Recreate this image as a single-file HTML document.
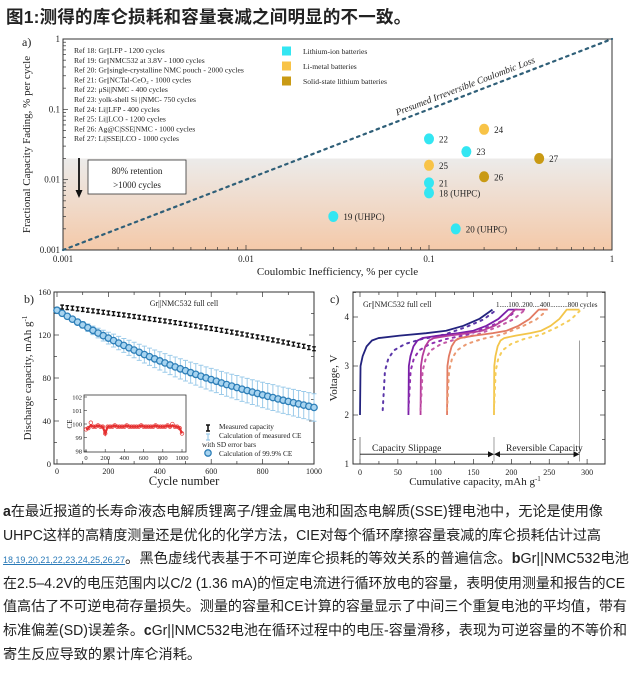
<!DOCTYPE html>
<html><head><meta charset="utf-8">
<style>
html,body{margin:0;padding:0;background:#fff;width:633px;height:684px;overflow:hidden;position:relative}
svg{position:absolute;left:0;top:0}
.t{font-family:"Liberation Serif","Noto Serif CJK SC",serif;fill:#222}
#title{position:absolute;left:6px;top:4px;font-family:"Liberation Sans","Noto Sans CJK SC",sans-serif;font-weight:bold;font-size:17.5px;color:#222;white-space:nowrap;letter-spacing:0.2px}
#para{position:absolute;left:3px;top:501px;font-family:"Liberation Sans","Noto Sans CJK SC",sans-serif;font-size:14.4px;line-height:23.6px;color:#222;white-space:nowrap}
#para div{transform-origin:0 50%;width:max-content}
#para b{font-weight:bold}
#para a{color:#2a7ab8;font-size:9px;text-decoration:underline}
</style></head><body>
<div id="title">图1:测得的库仑损耗和容量衰减之间明显的不一致。</div>
<svg id="fig" width="633" height="495" viewBox="0 0 633 495">
<defs>
<linearGradient id="shade" x1="0" y1="0" x2="0" y2="1">
<stop offset="0" stop-color="#ecebea"/><stop offset="1" stop-color="#f4c9a9"/>
</linearGradient>
</defs>
<g id="pa"></g>
<g id="pb"></g>
<g id="pc"></g>
</svg>
<div id="para">
<div data-w="600"><b>a</b>在最近报道的长寿命液态电解质锂离子/锂金属电池和固态电解质(SSE)锂电池中，无论是使用像</div>
<div data-w="598">UHPC这样的高精度测量还是优化的化学方法，CIE对每个循环摩擦容量衰减的库仑损耗估计过高</div>
<div data-w="626"><a>18,19,20,21,22,23,24,25,26,27</a>。黑色虚线代表基于不可逆库仑损耗的等效关系的普遍信念。<b>b</b>Gr||NMC532电池</div>
<div data-w="622">在2.5–4.2V的电压范围内以C/2 (1.36 mA)的恒定电流进行循环放电的容量，表明使用测量和报告的CE</div>
<div data-w="624">值高估了不可逆电荷存量损失。测量的容量和CE计算的容量显示了中间三个重复电池的平均值，带有</div>
<div data-w="624">标准偏差(SD)误差条。<b>c</b>Gr||NMC532电池在循环过程中的电压-容量滑移，表现为可逆容量的不等价和</div>
<div data-w="198">寄生反应导致的累计库仑消耗。</div>
</div>
<script>
// ---------- Panel a data ----------
const aLabels = ['22','24','23','27','25','26','21','18 (UHPC)','19 (UHPC)','20 (UHPC)'];
const aCI = [0.1,0.2,0.16,0.4,0.1,0.2,0.1,0.1,0.03,0.14];
const aFade = [0.038,0.052,0.025,0.02,0.016,0.011,0.009,0.0065,0.003,0.002];
const aType = [0,1,0,2,1,2,0,0,0,0];
const aTypeNames = ['Lithium-ion batteries','Li-metal batteries','Solid-state lithium batteries'];
const aRefs = ['Ref 18:  Gr||LFP - 1200 cycles','Ref 19:  Gr||NMC532 at 3.8V - 1000 cycles','Ref 20:  Gr||single-crystalline NMC pouch - 2000 cycles','Ref 21:  Gr||NCTal-CeO\u2082 - 1000 cycles','Ref 22:  \u03bcSi||NMC - 400 cycles','Ref 23:  yolk-shell Si ||NMC- 750 cycles','Ref 24:  Li||LFP - 400 cycles','Ref 25:  Li||LCO - 1200 cycles','Ref 26:  Ag@C|SSE|NMC - 1000 cycles','Ref 27:  Li|SSE|LCO - 1000 cycles'];
const aTicks = [0.001,0.01,0.1,1];
const aTickLabels = ['0.001','0.01','0.1','1'];
// ---------- Panel b data ----------
const bBlackCycles = [20,40,60,80,100,120,140,160,180,200,220,240,260,280,300,320,340,360,380,400,420,440,460,480,500,520,540,560,580,600,620,640,660,680,700,720,740,760,780,800,820,840,860,880,900,920,940,960,980,1000];
const bMeasured = [146,145.5,145,144.3,143.7,143,142.4,141.8,141.2,140.5,139.9,139.2,138.6,137.9,137.2,136.5,135.8,135.1,134.4,133.7,133,132.3,131.5,130.8,130,129.2,128.4,127.6,126.8,126,125.2,124.4,123.5,122.7,121.8,120.9,120,119.1,118.2,117.3,116.4,115.4,114.5,113.5,112.5,111.5,110.5,109.5,108.3,107.2];
const bBlueCycles = [0,20,40,60,80,100,120,140,160,180,200,220,240,260,280,300,320,340,360,380,400,420,440,460,480,500,520,540,560,580,600,620,640,660,680,700,720,740,760,780,800,820,840,860,880,900,920,940,960,980,1000];
const bCalc = [143.0,140.2,137.4,134.7,132.0,129.4,126.8,124.3,121.8,119.4,117.1,114.8,112.5,110.3,108.1,106.0,103.9,101.8,99.8,97.8,95.9,94.0,92.1,90.3,88.5,86.8,85.0,83.4,81.7,80.1,78.5,77.0,75.4,73.9,72.5,71.1,69.6,68.3,66.9,65.6,64.3,63.0,61.8,60.5,59.3,58.2,57.0,55.9,54.8,53.7,52.6];
const bCalcErr = [0.5,1,1.5,2,2.5,3,3.5,4,4.5,5,5.5,6,6.2,6.5,7,7.2,7.5,7.8,8,8.2,8.5,8.7,9,9.2,9.4,9.6,9.8,10,10.2,10.3,10.5,10.6,10.8,10.9,11,11.2,11.3,11.4,11.5,11.6,11.8,11.9,12,12.1,12.2,12.3,12.4,12.5,12.6,12.7,12.8];
const bMeasErr = 1.8;
const bXTicks = [0,200,400,600,800,1000];
const bYTicks = [0,40,80,120,160];
const ceCycles = [0,25,50,75,100,125,150,175,200,225,250,275,300,325,350,375,400,425,450,475,500,525,550,575,600,625,650,675,700,725,750,775,800,825,850,875,900,925,950,975,1000];
const ceValues = [99.6,99.7,100.1,99.8,99.8,99.9,99.8,99.8,99.3,99.8,99.8,99.8,99.9,99.8,99.8,99.8,99.8,99.9,99.8,99.8,99.8,99.8,99.8,99.9,99.8,99.8,99.8,99.8,99.8,99.9,99.8,99.8,99.8,99.8,99.9,99.8,100.0,99.8,99.8,99.7,99.3];
const ceYTicks = [98,99,100,101,102];
const ceXTicks = [0,200,400,600,800,1000];
// ---------- Panel c data ----------
const cCycles = ['1','100','200','400','800'];
const cColors = ['#23237e','#7a1fa8','#b53c9c','#e27a62','#f3c54a'];
const cDotColors = ['#5b36a8','#8f2fb0','#c45aa8','#eb9a72','#f5cd5a'];
const cSolidStart = [0,64,80,115,177];
const cSolidTop = [175,196,205,236,273];
const cSolidFlatEnd = [175,208,218,248,290];
const cDotStart = [30,64,80,115,177];
const cDotEnd = [178,206,216,246,290];
const solidT = [0,0.004,0.02,0.05,0.09,0.14,0.3,0.5,0.65,0.78,0.9,1.0];
const solidV = [2.0,3.0,3.2,3.4,3.52,3.57,3.62,3.67,3.72,3.82,3.96,4.15];
const dotT = [0,0.02,0.05,0.1,0.2,0.35,0.55,0.75,0.9,1.0];
const dotV = [2.1,2.9,3.15,3.32,3.45,3.55,3.64,3.8,3.95,4.12];
const cXTicks = [0,50,100,150,200,250,300];
const cYTicks = [1,2,3,4];

const NS='http://www.w3.org/2000/svg';
function mk(parent,tag,attrs,txt){const e=document.createElementNS(NS,tag);for(const k in attrs)e.setAttribute(k,attrs[k]);if(txt!==undefined)e.textContent=txt;parent.appendChild(e);return e;}

// fit caption lines
document.querySelectorAll('#para div').forEach(d=>{const w=d.getBoundingClientRect().width;const target=+d.getAttribute('data-w');d.style.transform='scaleX('+(target/w)+')';});

// ====== Panel A ======
const pa=document.getElementById('pa');
const AX0=63,AX1=612,AY0=250,AY1=39;
const ax=v=>AX0+(Math.log10(v)+3)/3*(AX1-AX0);
const ay=v=>AY0-(Math.log10(v)+3)/3*(AY0-AY1);
let r=mk(pa,'rect',{x:AX0,y:ay(0.02),width:AX1-AX0,height:AY0-ay(0.02),fill:'url(#shade)'});

r=mk(pa,'rect',{x:AX0,y:AY1,width:AX1-AX0,height:AY0-AY1,fill:'none',stroke:'#333','stroke-width':1});

for(let d=0;d<3;d++){for(let m=1;m<10;m++){const v=Math.pow(10,d-3)*m;const len=m===1?5:3;
 mk(pa,'line',{x1:ax(v),x2:ax(v),y1:AY0,y2:AY0-len,stroke:'#333','stroke-width':0.7});
 mk(pa,'line',{x1:AX0,x2:AX0+len,y1:ay(v),y2:ay(v),stroke:'#333','stroke-width':0.7});}}
aTicks.forEach((v,i)=>{
 let t=mk(pa,'text',{x:ax(v),y:AY0+12,'font-size':9,'text-anchor':'middle',class:'t'},aTickLabels[i]);
 
 t=mk(pa,'text',{x:AX0-3,y:ay(v)+3,'font-size':9,'text-anchor':'end',class:'t'},aTickLabels[i]);
 
});
let tt=mk(pa,'text',{x:(AX0+AX1)/2,y:275,'font-size':11,'text-anchor':'middle',class:'t'},'Coulombic Inefficiency, % per cycle');

tt=mk(pa,'text',{x:0,y:0,'font-size':11,'text-anchor':'middle',class:'t',transform:'translate(30,'+((AY0+AY1)/2)+') rotate(-90)'},'Fractional Capacity Fading, % per cycle');

tt=mk(pa,'text',{x:22,y:46,'font-size':12,class:'t'},'a)');

let dl=mk(pa,'line',{x1:ax(0.001),y1:ay(0.001),x2:ax(1),y2:ay(1),stroke:'#2f5f78','stroke-width':2.2,'stroke-dasharray':'2.5 4.5','stroke-linecap':'round'});

const ang=-Math.atan((AY0-AY1)/(AX1-AX0))*180/Math.PI;
tt=mk(pa,'text',{x:0,y:0,'font-size':9.5,'text-anchor':'middle',class:'t','font-style':'italic',transform:'translate('+ax(0.16)+','+(ay(0.16)-6)+') rotate('+ang+')'},'Presumed Irreversible Coulombic Loss');

aRefs.forEach((s,i)=>{let t=mk(pa,'text',{x:74,y:53+i*9.8,'font-size':7.6,class:'t'},s);
 });
const typeColors=['#33e6f2','#f8c347','#c99a14'];
aTypeNames.forEach((s,i)=>{const y=[51,66,81][i];
 let q=mk(pa,'rect',{x:282,y:y-4.5,width:9,height:9,fill:typeColors[i]});
 
 let t=mk(pa,'text',{x:303,y:y+3,'font-size':7.6,class:'t'},s);
 });
r=mk(pa,'rect',{x:88,y:160,width:98,height:34,fill:'#fff',stroke:'#333','stroke-width':0.8});

tt=mk(pa,'text',{x:137,y:174,'font-size':9,'text-anchor':'middle',class:'t'},'80% retention');

tt=mk(pa,'text',{x:137,y:188,'font-size':9,'text-anchor':'middle',class:'t'},'>1000 cycles');

let ar=mk(pa,'line',{x1:79,y1:158,x2:79,y2:191,stroke:'#111','stroke-width':1.8});

mk(pa,'polygon',{points:'75.5,190 82.5,190 79,198',fill:'#111'});
aCI.forEach((v,i)=>{
 let c=mk(pa,'ellipse',{cx:ax(v),cy:ay(aFade[i]),rx:5,ry:5.5,fill:typeColors[aType[i]]});
 
 let t=mk(pa,'text',{x:ax(v)+10,y:ay(aFade[i])+3.5,'font-size':9,class:'t'},aLabels[i]);
 
});

// ====== Panel B ======
const pb=document.getElementById('pb');
const BX0=54,BX1=314,BY0=464,BY1=292;
const bx=v=>BX0+3+v/1000*(BX1-BX0-3);
const by=v=>BY0-v/160*(BY0-BY1);
r=mk(pb,'rect',{x:BX0,y:BY1,width:BX1-BX0,height:BY0-BY1,fill:'none',stroke:'#333','stroke-width':1});

for(let v=0;v<=1000;v+=100){const L=v%200===0?5:3;mk(pb,'line',{x1:bx(v),x2:bx(v),y1:BY0,y2:BY0-L,stroke:'#333','stroke-width':0.7});mk(pb,'line',{x1:bx(v),x2:bx(v),y1:BY1,y2:BY1+L,stroke:'#333','stroke-width':0.7});}
for(let v=0;v<=160;v+=20){const L=v%40===0?5:3;mk(pb,'line',{x1:BX0,x2:BX0+L,y1:by(v),y2:by(v),stroke:'#333','stroke-width':0.7});mk(pb,'line',{x1:BX1,x2:BX1-L,y1:by(v),y2:by(v),stroke:'#333','stroke-width':0.7});}
bXTicks.forEach(v=>{let t=mk(pb,'text',{x:bx(v),y:BY0+10,'font-size':8,'text-anchor':'middle',class:'t'},String(v));});
bYTicks.forEach(v=>{let t=mk(pb,'text',{x:BX0-3,y:by(v)+3,'font-size':8.5,'text-anchor':'end',class:'t'},String(v));});
tt=mk(pb,'text',{x:(BX0+BX1)/2,y:485,'font-size':12.5,'text-anchor':'middle',class:'t'},'Cycle number');

tt=mk(pb,'text',{x:0,y:0,'font-size':11,'text-anchor':'middle',class:'t',transform:'translate(31,'+((BY0+BY1)/2)+') rotate(-90)'});
tt.innerHTML='Discharge capacity, mAh g<tspan baseline-shift="super" font-size="7">-1</tspan>';

tt=mk(pb,'text',{x:24,y:303,'font-size':12,class:'t'},'b)');

tt=mk(pb,'text',{x:184,y:306,'font-size':8,'text-anchor':'middle',class:'t'},'Gr||NMC532 full cell');

bBlueCycles.forEach((c,i)=>{const x=bx(c),y1=by(bCalc[i]+bCalcErr[i]),y2=by(bCalc[i]-bCalcErr[i]);
 let g=mk(pb,'path',{d:`M${x},${y1}V${y2}M${x-2.5},${y1}H${x+2.5}M${x-2.5},${y2}H${x+2.5}`,stroke:'#9ccbea','stroke-width':1,fill:'none'});
 });
bBlueCycles.forEach((c,i)=>{let e=mk(pb,'circle',{cx:bx(c),cy:by(bCalc[i]),r:3.2,fill:'#a8d4f0',stroke:'#2e7fb8','stroke-width':1.3});
 });
bBlackCycles.forEach((c,i)=>{const x=bx(c),y1=by(bMeasured[i]+bMeasErr),y2=by(bMeasured[i]-bMeasErr);
 let g=mk(pb,'path',{d:`M${x},${y1}V${y2}M${x-1.8},${y1}H${x+1.8}M${x-1.8},${y2}H${x+1.8}`,stroke:'#111','stroke-width':1.4,fill:'none'});
 });
const IX0=84,IX1=186,IY0=452,IY1=395;
const ix=v=>IX0+2+v/1000*(IX1-IX0-6);
const iy=v=>451-(v-98)/4*(451-397);
r=mk(pb,'rect',{x:IX0,y:IY1,width:IX1-IX0,height:IY0-IY1,fill:'#fff',stroke:'#333','stroke-width':0.8});

ceYTicks.forEach(v=>{mk(pb,'line',{x1:IX0,x2:IX0+3,y1:iy(v),y2:iy(v),stroke:'#333','stroke-width':0.6});
 let t=mk(pb,'text',{x:IX0-2,y:iy(v)+2.5,'font-size':6.5,'text-anchor':'end',class:'t'},String(v));});
ceXTicks.forEach(v=>{mk(pb,'line',{x1:ix(v),x2:ix(v),y1:IY0,y2:IY0-3,stroke:'#333','stroke-width':0.6});
 let t=mk(pb,'text',{x:ix(v),y:IY0+8,'font-size':6.5,'text-anchor':'middle',class:'t'},String(v));});
tt=mk(pb,'text',{x:0,y:0,'font-size':7,'text-anchor':'middle',class:'t',transform:'translate('+(IX0-12)+','+iy(100)+') rotate(-90)'},'CE');

let cep=mk(pb,'polyline',{points:ceCycles.map((c,i)=>ix(c)+','+iy(Math.min(ceValues[i],99.9))).join(' '),fill:'none',stroke:'#e53030','stroke-width':2.2});

ceCycles.forEach((c,i)=>{let e=mk(pb,'circle',{cx:ix(c),cy:iy(ceValues[i]),r:1.8,fill:'none',stroke:'#e53030','stroke-width':0.7});
 });
mk(pb,'path',{d:'M208,425V431M206,425H210M206,431H210',stroke:'#111','stroke-width':1.6,fill:'none'});
mk(pb,'path',{d:'M208,434V440M206,434H210M206,440H210',stroke:'#9ccbea','stroke-width':1.2,fill:'none'});
mk(pb,'circle',{cx:208,cy:453,r:3.2,fill:'#a8d4f0',stroke:'#2e7fb8','stroke-width':1.3});
[['Measured capacity',219,431],['Calculation of measured CE',219,440],['with SD error bars',202,449],['Calculation of 99.9% CE',219,458]].forEach(a=>{
 let t=mk(pb,'text',{x:a[1],y:a[2]-2,'font-size':7.3,class:'t'},a[0]);});

// ====== Panel C ======
const pc=document.getElementById('pc');
const CX0=353,CX1=605,CY0=464,CY1=292;
const cx=v=>360+v*0.757;
const cy=v=>464-(v-1)*49;
r=mk(pc,'rect',{x:CX0,y:CY1,width:CX1-CX0,height:CY0-CY1,fill:'none',stroke:'#333','stroke-width':1});

for(let v=0;v<=325;v+=25){if(cx(v)>CX1)break;const L=v%50===0?5:3;mk(pc,'line',{x1:cx(v),x2:cx(v),y1:CY0,y2:CY0-L,stroke:'#333','stroke-width':0.7});mk(pc,'line',{x1:cx(v),x2:cx(v),y1:CY1,y2:CY1+L,stroke:'#333','stroke-width':0.7});}
for(let v=1;v<=4.5;v+=0.5){const L=Number.isInteger(v)?5:3;mk(pc,'line',{x1:CX0,x2:CX0+L,y1:cy(v),y2:cy(v),stroke:'#333','stroke-width':0.7});mk(pc,'line',{x1:CX1,x2:CX1-L,y1:cy(v),y2:cy(v),stroke:'#333','stroke-width':0.7});}
cXTicks.forEach(v=>{let t=mk(pc,'text',{x:cx(v),y:CY0+11,'font-size':8,'text-anchor':'middle',class:'t'},String(v));});
cYTicks.forEach(v=>{let t=mk(pc,'text',{x:CX0-4,y:cy(v)+3,'font-size':9,'text-anchor':'end',class:'t'},String(v));});
tt=mk(pc,'text',{x:475,y:485,'font-size':11,'text-anchor':'middle',class:'t'});
tt.innerHTML='Cumulative capacity, mAh g<tspan baseline-shift="super" font-size="7">-1</tspan>';

tt=mk(pc,'text',{x:0,y:0,'font-size':11,'text-anchor':'middle',class:'t',transform:'translate(337,378) rotate(-90)'},'Voltage, V');

tt=mk(pc,'text',{x:330,y:303,'font-size':12,class:'t'},'c)');

tt=mk(pc,'text',{x:363,y:307,'font-size':8,class:'t'},'Gr||NMC532 full cell');

tt=mk(pc,'text',{x:496,y:307,'font-size':7,class:'t'},'1.....100..200....400..........800 cycles');

cCycles.forEach((n,i)=>{
 const s=cSolidStart[i],e=cSolidTop[i];
 let pts=solidT.map((t,k)=>cx(s+t*(e-s))+','+cy(solidV[k]));
 pts.push(cx(cSolidFlatEnd[i])+','+cy(4.15));
 let p=mk(pc,'polyline',{points:pts.join(' '),fill:'none',stroke:cColors[i],'stroke-width':1.8,'stroke-linejoin':'round'});
 
 const ds=cDotStart[i],de=cDotEnd[i];
 let q=mk(pc,'polyline',{points:dotT.map((t,k)=>cx(ds+t*(de-ds))+','+cy(dotV[k])).join(' '),fill:'none',stroke:cDotColors[i],'stroke-width':2,'stroke-dasharray':'2 5','stroke-linecap':'round'});
 
});
const slipEnd=cSolidStart[4], revEnd=cSolidFlatEnd[4];
mk(pc,'line',{x1:cx(0),x2:cx(0),y1:cy(1.55),y2:cy(1.05),stroke:'#666','stroke-width':0.8});
mk(pc,'line',{x1:cx(slipEnd),x2:cx(slipEnd),y1:cy(1.55),y2:cy(1.05),stroke:'#888','stroke-width':0.8});
mk(pc,'line',{x1:cx(revEnd),x2:cx(revEnd),y1:cy(3.52),y2:cy(1.05),stroke:'#888','stroke-width':0.8});
const ya=cy(1.2);
let sa=mk(pc,'line',{x1:cx(0),x2:cx(slipEnd)-5,y1:ya,y2:ya,stroke:'#111','stroke-width':0.9});

mk(pc,'polygon',{points:`${cx(slipEnd)},${ya} ${cx(slipEnd)-6},${ya-3} ${cx(slipEnd)-6},${ya+3}`,fill:'#111'});
let ra=mk(pc,'line',{x1:cx(slipEnd)+5,x2:cx(revEnd)-5,y1:ya,y2:ya,stroke:'#111','stroke-width':0.9});

mk(pc,'polygon',{points:`${cx(slipEnd)},${ya} ${cx(slipEnd)+6},${ya-3} ${cx(slipEnd)+6},${ya+3}`,fill:'#111'});
mk(pc,'polygon',{points:`${cx(revEnd)},${ya} ${cx(revEnd)-6},${ya-3} ${cx(revEnd)-6},${ya+3}`,fill:'#111'});
tt=mk(pc,'text',{x:372,y:451,'font-size':9.5,class:'t'},'Capacity Slippage');

tt=mk(pc,'text',{x:506,y:451,'font-size':9.5,class:'t'},'Reversible Capacity');

</script>
</body></html>
